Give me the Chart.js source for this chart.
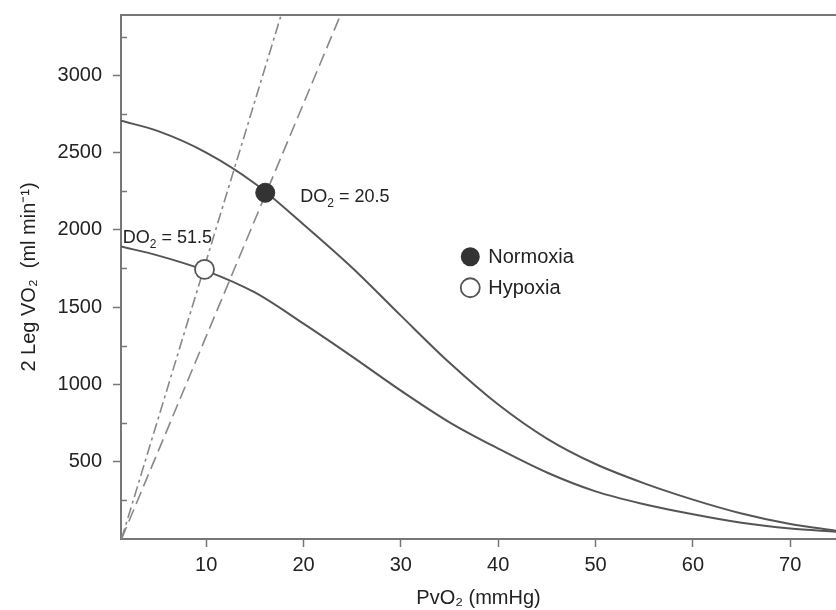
<!DOCTYPE html>
<html><head><meta charset="utf-8">
<script src="https://cdn.jsdelivr.net/npm/chart.js@4/dist/chart.umd.min.js"></script>
<style>html,body{margin:0;padding:0;background:#fff}#wrap{width:836px;height:610px;position:relative}</style>
</head><body><div id="wrap"><canvas id="c"></canvas></div>
<script>
// ---- data ----
const normoxiaX = [1.25, 5, 10, 15, 20, 25, 30, 35, 40, 45, 50, 55, 60, 65, 70, 74.7];
const normoxiaY = [2706, 2640, 2500, 2300, 2035, 1755, 1445, 1140, 870, 650, 485, 360, 255, 165, 97, 54];
const hypoxiaX  = [1.25, 5, 10, 15, 20, 25, 30, 35, 40, 45, 50, 55, 60, 65, 70, 74.7];
const hypoxiaY  = [1892, 1835, 1735, 1595, 1393, 1180, 960, 755, 585, 430, 308, 225, 160, 105, 68, 47];
const hypoxiaLineX  = [1.3, 17.7];   // dash-dot diffusion line
const hypoxiaLineY  = [0, 3390];
const normoxiaLineX = [1.3, 23.8];   // dashed diffusion line
const normoxiaLineY = [0, 3390];
const seriesNames = ['Normoxia', 'Hypoxia'];
const pointX = [16.07, 9.83];
const pointY = [2240, 1744];
const doValues = ['20.5', '51.5'];
const xTickValues = [10, 20, 30, 40, 50, 60, 70];
const yTickValues = [500, 1000, 1500, 2000, 2500, 3000];
const yMinorTicks = [250, 750, 1250, 1750, 2250, 2750, 3250];

const zip = (xs, ys) => xs.map((x, i) => ({x, y: ys[i]}));
const FONT = '"Liberation Sans", Arial, Helvetica, sans-serif';
const TXT = '#222';
const AX = '#777';
const CURVE = '#555';

Chart.defaults.font.family = FONT;
Chart.defaults.color = TXT;

const extras = {
  id: 'extras',
  afterDraw(chart, args, opts) {
    const {ctx, chartArea: ca, scales: {x, y}} = chart;
    ctx.save();
    // top border
    ctx.strokeStyle = AX; ctx.lineWidth = 2;
    ctx.beginPath(); ctx.moveTo(ca.left - 1, ca.top); ctx.lineTo(ca.right, ca.top); ctx.stroke();
    // minor y ticks (inside)
    ctx.lineWidth = 1.5;
    yMinorTicks.forEach(v => {
      const py = Math.round(y.getPixelForValue(v)) + 0.5;
      ctx.beginPath(); ctx.moveTo(ca.left, py); ctx.lineTo(ca.left + 6, py); ctx.stroke();
    });
    // DO2 labels
    const drawDO = (val, dx, dy) => {
      let px = x.getPixelForValue(dx), py = y.getPixelForValue(dy);
      ctx.fillStyle = TXT; ctx.textBaseline = 'alphabetic'; ctx.textAlign = 'left';
      ctx.font = '18px ' + FONT;
      ctx.fillText('DO', px, py); px += ctx.measureText('DO').width;
      ctx.font = '12px ' + FONT;
      ctx.fillText('2', px, py + 5); px += ctx.measureText('2').width;
      ctx.font = '18px ' + FONT;
      ctx.fillText(' = ' + val, px, py);
    };
    drawDO(doValues[0], opts.lab1[0], opts.lab1[1]);
    drawDO(doValues[1], opts.lab2[0], opts.lab2[1]);
    // legend
    const lx = x.getPixelForValue(opts.legend[0]);
    let ly = y.getPixelForValue(opts.legend[1]);
    seriesNames.forEach((name, i) => {
      ctx.beginPath(); ctx.arc(lx, ly, 9.5, 0, Math.PI * 2);
      if (i === 0) { ctx.fillStyle = '#333'; ctx.fill(); }
      else { ctx.fillStyle = '#fff'; ctx.fill(); ctx.strokeStyle = CURVE; ctx.lineWidth = 1.8; ctx.stroke(); }
      ctx.fillStyle = TXT; ctx.font = '20px ' + FONT; ctx.textBaseline = 'middle'; ctx.textAlign = 'left';
      ctx.fillText(name, lx + 18, ly + 1);
      ly += 31;
    });
    ctx.restore();
  }
};

new Chart(document.getElementById('c'), {
  type: 'scatter',
  data: {
    datasets: [
      {label: seriesNames[0] + ' point', data: [{x: pointX[0], y: pointY[0]}], order: 0,
       pointRadius: 9.5, pointBackgroundColor: '#333', pointBorderColor: '#333', pointBorderWidth: 1},
      {label: seriesNames[1] + ' point', data: [{x: pointX[1], y: pointY[1]}], order: 0,
       pointRadius: 9.5, pointBackgroundColor: '#fff', pointBorderColor: CURVE, pointBorderWidth: 1.8},
      {label: seriesNames[0], data: zip(normoxiaX, normoxiaY), showLine: true, order: 2,
       borderColor: CURVE, borderWidth: 2, pointRadius: 0, cubicInterpolationMode: 'monotone'},
      {label: seriesNames[1], data: zip(hypoxiaX, hypoxiaY), showLine: true, order: 2,
       borderColor: CURVE, borderWidth: 2, pointRadius: 0, cubicInterpolationMode: 'monotone'},
      {label: 'Hypoxia diffusion', data: zip(hypoxiaLineX, hypoxiaLineY), showLine: true, order: 3,
       borderColor: '#888', borderWidth: 1.6, borderDash: [11, 4, 3, 4], pointRadius: 0},
      {label: 'Normoxia diffusion', data: zip(normoxiaLineX, normoxiaLineY), showLine: true, order: 3,
       borderColor: '#888', borderWidth: 1.6, borderDash: [13, 6], pointRadius: 0}
    ]
  },
  options: {
    responsive: true, maintainAspectRatio: false, animation: false, events: [],
    layout: {autoPadding: false, padding: {top: 15, right: 0, left: 0, bottom: 0}},
    plugins: {
      legend: {display: false}, tooltip: {enabled: false},
      extras: {lab1: [19.66, 2182], lab2: [1.44, 1913], legend: [37.13, 1826]}
    },
    scales: {
      x: {
        type: 'linear', min: 1.25, max: 74.7,
        afterFit: s => { s.height = 71; s.paddingLeft = 0; s.paddingRight = 0; },
        afterBuildTicks: s => { s.ticks = xTickValues.map(v => ({value: v})); },
        ticks: {font: {size: 20}, color: TXT, padding: 6, includeBounds: false, maxRotation: 0,
                callback: v => String(v)},
        grid: {display: true, drawOnChartArea: false, drawTicks: true, tickLength: 8, tickColor: AX, tickWidth: 1.5},
        border: {display: true, color: AX, width: 2},
        title: {display: true, text: 'PvO₂ (mmHg)', font: {size: 20}, color: TXT, padding: {top: 0, bottom: 0}}
      },
      y: {
        type: 'linear', min: 0, max: 3390,
        afterFit: s => { s.width = 121; s.paddingTop = 0; s.paddingBottom = 0; },
        afterBuildTicks: s => { s.ticks = yTickValues.map(v => ({value: v})); },
        ticks: {font: {size: 20}, color: TXT, padding: 11, includeBounds: false, callback: v => String(v)},
        grid: {display: true, drawOnChartArea: false, drawTicks: true, tickLength: 8, tickColor: AX, tickWidth: 1.5},
        border: {display: true, color: AX, width: 2},
        title: {display: true, text: '2 Leg VO₂  (ml min⁻¹)', font: {size: 20}, color: TXT, padding: {top: 17, bottom: 0}}
      }
    }
  },
  plugins: [extras]
});
</script>
</body></html>
